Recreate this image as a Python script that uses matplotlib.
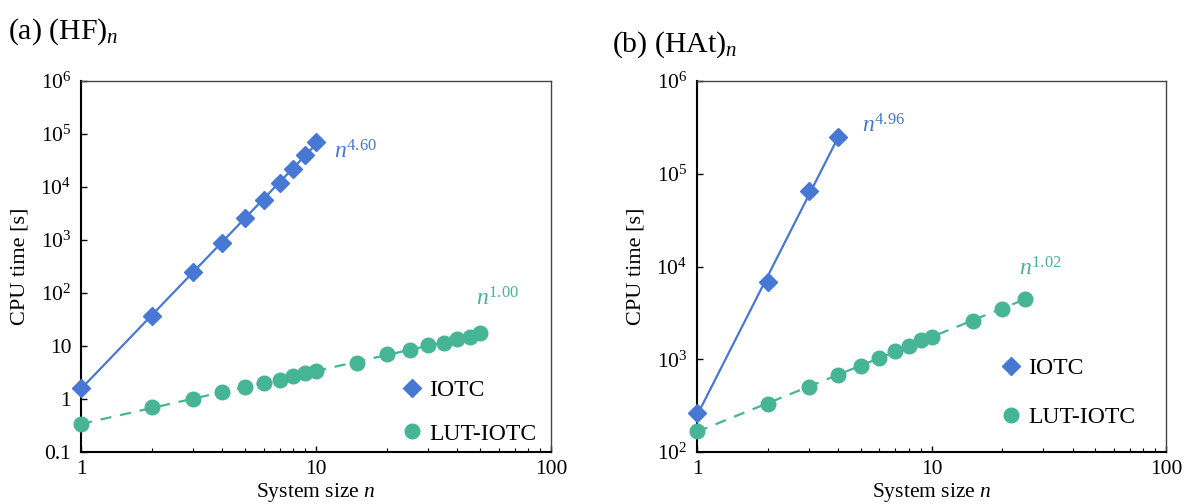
import numpy as np
import matplotlib
matplotlib.use("Agg")
from matplotlib import pyplot as plt
from matplotlib.lines import Line2D

plt.rcParams['font.family'] = ['Liberation Serif', 'DejaVu Serif']
plt.rcParams['mathtext.fontset'] = 'custom'
plt.rcParams['mathtext.rm'] = 'Liberation Serif'
plt.rcParams['mathtext.it'] = 'Liberation Serif:italic'

BLUE = '#4778d4'
GREEN = '#46b595'

# (a) (HF)n
hf_n_iotc = [1, 2, 3, 4, 5, 6, 7, 8, 9, 10]
hf_t_iotc = [1.63, 36.8, 253, 890, 2630, 5690, 12000, 21900, 40000, 71600]
hf_n_lut = [1, 2, 3, 4, 5, 6, 7, 8, 9, 10, 15, 20, 25, 30, 35, 40, 45, 50]
hf_t_lut = [0.337, 0.70, 0.99, 1.34, 1.71, 2.03, 2.28, 2.75, 3.05, 3.42,
            4.84, 6.97, 8.4, 10.5, 11.5, 13.4, 14.8, 17.4]

# (b) (HAt)n
hat_n_iotc = [1, 2, 3, 4]
hat_t_iotc = [261, 6800, 64700, 247000]
hat_n_lut = [1, 2, 3, 4, 5, 6, 7, 8, 9, 10, 15, 20, 25]
hat_t_lut = [168, 332, 498, 676, 839, 1023, 1236, 1400, 1614, 1750,
             2605, 3450, 4460]

panels = [
    dict(title=r'(a) (HF)$_{n}$', n1=hf_n_iotc, t1=hf_t_iotc, n2=hf_n_lut, t2=hf_t_lut,
         ylim=(0.1, 1e6), yticks=[0.1, 1, 10, 1e2, 1e3, 1e4, 1e5, 1e6],
         ylabels=['0.1', '1', '10', r'$10^{2}$', r'$10^{3}$', r'$10^{4}$', r'$10^{5}$', r'$10^{6}$'],
         lab1=(r'$n^{4.60}$', 11.9, 10**4.66), lab2=(r'$n^{1.00}$', 48, 78),
         pos=[81, 81, 551, 452], leg=(0.65, -0.025), legsp=0.95, tx=8, ty=32),
    dict(title=r'(b) (HAt)$_{n}$', n1=hat_n_iotc, t1=hat_t_iotc, n2=hat_n_lut, t2=hat_t_lut,
         ylim=(1e2, 1e6), yticks=[1e2, 1e3, 1e4, 1e5, 1e6],
         ylabels=[r'$10^{2}$', r'$10^{3}$', r'$10^{4}$', r'$10^{5}$', r'$10^{6}$'],
         lab1=(r'$n^{4.96}$', 5.07, 10**5.52), lab2=(r'$n^{1.02}$', 23.5, 10**3.97),
         pos=[697, 81, 1166, 452], leg=(0.615, 0.02), legsp=1.15, tx=612, ty=45),
]

W, H = 1186, 504
fig = plt.figure(figsize=(W / 100, H / 100), dpi=100)

for p in panels:
    x0, y0, x1, y1 = p['pos']
    ax = fig.add_axes([x0 / W, 1 - y1 / H, (x1 - x0) / W, (y1 - y0) / H])
    ax.set_xscale('log')
    ax.set_yscale('log')

    # fit lines through the data (log-log)
    for n, t, c, ls in [(p['n1'], p['t1'], BLUE, '-'), (p['n2'], p['t2'], GREEN, '--')]:
        k, b = np.polyfit(np.log10(n), np.log10(t), 1)
        xs = np.array([min(n), max(n)], dtype=float)
        ax.plot(xs, 10 ** (k * np.log10(xs) + b), color=c, ls=ls, lw=1.6,
                dashes=(5, 4) if ls == '--' else (None, None), zorder=2)

    ax.plot(p['n1'], p['t1'], 'D', color=BLUE, ms=9, zorder=3, clip_on=False)
    ax.plot(p['n2'], p['t2'], 'o', color=GREEN, ms=10.5, zorder=3, clip_on=False)

    ax.set_xlim(1, 100)
    ax.set_ylim(*p['ylim'])
    ax.set_xticks([1, 10, 100])
    ax.set_xticklabels(['1', '10', '100'])
    ax.set_yticks(p['yticks'])
    ax.set_yticklabels(p['ylabels'])
    ax.yaxis.set_minor_locator(matplotlib.ticker.NullLocator())
    ax.tick_params(which='both', direction='in', labelsize=15.5, top=False, right=False)
    ax.tick_params(which='major', length=4, width=1)
    ax.tick_params(axis='y', which='major', pad=7)
    ax.tick_params(axis='x', which='major', pad=6)
    ax.tick_params(which='minor', length=3, width=0.8)

    for s in ['left', 'bottom']:
        ax.spines[s].set_linewidth(1.5)
        ax.spines[s].set_color('black')
    for s in ['top', 'right']:
        ax.spines[s].set_linewidth(1.0)
        ax.spines[s].set_color('#444444')

    ax.set_xlabel(r'System size $n$', fontsize=15.5, labelpad=1)
    ax.set_ylabel('CPU time [s]', fontsize=16, labelpad=8)

    t, x, y = p['lab1']
    ax.text(x, y, t, color=BLUE, fontsize=17, va='center', ha='left')
    t, x, y = p['lab2']
    ax.text(x, y, t, color=GREEN, fontsize=17, va='center', ha='left')

    handles = [Line2D([], [], marker='D', color=BLUE, ls='none', ms=9),
               Line2D([], [], marker='o', color=GREEN, ls='none', ms=10.5)]
    ax.legend(handles, ['IOTC', 'LUT-IOTC'], loc='lower left', bbox_to_anchor=p['leg'],
              frameon=False, fontsize=17, handlelength=0.8, handletextpad=0.3,
              labelspacing=p['legsp'], borderpad=0.2)

    fig.text(p['tx'] / W, 1 - p['ty'] / H, p['title'], fontsize=21.5, va='center', ha='left')

fig.savefig('out.png', dpi=100)
